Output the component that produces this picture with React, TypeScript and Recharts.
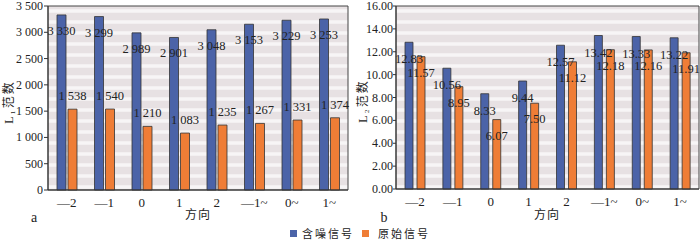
import React from 'react';
import { BarChart, Bar, XAxis, YAxis, CartesianGrid, LabelList, ReferenceArea } from 'recharts';

const categories = ['—2', '—1', '0', '1', '2', '—1~', '0~', '1~'];
const l1Noisy = [3330, 3299, 2989, 2901, 3048, 3153, 3229, 3253];
const l1Original = [1538, 1540, 1210, 1083, 1235, 1267, 1331, 1374];
const l2Noisy = [12.83, 10.56, 8.33, 9.44, 12.57, 13.42, 13.33, 13.22];
const l2Original = [11.57, 8.95, 6.07, 7.5, 11.12, 12.18, 12.16, 11.91];
const l1Ticks = [0, 500, 1000, 1500, 2000, 2500, 3000, 3500];
const l2Ticks = [0, 2, 4, 6, 8, 10, 12, 14, 16];
const seriesNames = ['含噪信号', '原始信号'];

const leftData = categories.map((c, i) => ({ cat: c, noisy: l1Noisy[i], original: l1Original[i] }));
const rightData = categories.map((c, i) => ({ cat: c, noisy: l2Noisy[i], original: l2Original[i] }));

const BLUE = '#4b63a8';
const ORANGE = '#ef7d36';
const TEXT = '#222';
const SERIF = '"Liberation Serif", "Times New Roman", serif';
const CJK = '"Noto Sans CJK SC", sans-serif';

const fmtThousands = (v: number) => {
  const s = String(Math.round(v));
  return s.length > 3 ? s.slice(0, s.length - 3) + ' ' + s.slice(s.length - 3) : s;
};
const fmt2 = (v: number) => Number(v).toFixed(2);

const makeLabel = (dy: number, fmt: (v: number) => string) => (props: any) => {
  const { x, y, width, value } = props;
  return (
    <text
      x={Number(x) + Number(width) / 2}
      y={Number(y) + dy}
      textAnchor="middle"
      dominantBaseline="central"
      style={{ fontSize: 12.5, fontFamily: SERIF }}
      fill={TEXT}
    >
      {fmt(value)}
    </text>
  );
};

const makeYTick = (fmt: (v: number) => string) => (props: any) => {
  const { x, y, payload } = props;
  return (
    <text x={x} y={y} textAnchor="end" dominantBaseline="central" fill={TEXT} style={{ fontSize: 12, fontFamily: SERIF }}>
      {fmt(payload.value)}
    </text>
  );
};

const XTick = (props: any) => {
  const { x, y, payload } = props;
  return (
    <text x={x} y={y + 6} textAnchor="middle" dominantBaseline="central" fill={TEXT} style={{ fontSize: 13, fontFamily: SERIF }}>
      {payload.value}
    </text>
  );
};

const stripes = (props: any) => {
  const off = props.offset || {};
  const top = off.top ?? 4;
  const h = off.height ?? 186;
  const pts: number[] = [];
  for (let yy = top + 5; yy < top + h - 1; yy += 11) pts.push(yy);
  return pts;
};

export default function App() {
  return (
    <div style={{ position: 'absolute', left: 0, top: 0, width: 700, height: 241, background: '#fff', overflow: 'hidden', fontFamily: SERIF }}>
      <div style={{ position: 'absolute', left: 0, top: 0 }}>
        <BarChart width={350} height={241} data={leftData} margin={{ top: 6, right: 2, bottom: 21, left: 0 }} barSize={9} barGap={2}>
          <CartesianGrid
            vertical={false}
            fill="#e7e1e3"
            stroke="#f7f5f6"
            strokeWidth={3.5}
            horizontalCoordinatesGenerator={stripes}
          />
          <XAxis dataKey="cat" height={30} tickLine={false} axisLine={{ stroke: '#333' }} tick={<XTick />} tickMargin={0} interval={0} />
          <YAxis
            width={48}
            domain={[0, 3500]}
            ticks={l1Ticks}
            tick={makeYTick(fmtThousands)}
            tickSize={4}
            tickMargin={1}
            tickLine={{ stroke: '#333' }}
            axisLine={{ stroke: '#333' }}
            interval={0}
          />
          <ReferenceArea y1={0} y2={3500} fill="none" stroke="#444" strokeWidth={1} />
          <Bar dataKey="noisy" fill={BLUE} stroke="#333" strokeWidth={0.8} isAnimationActive={false}>
            <LabelList dataKey="noisy" content={makeLabel(16, fmtThousands)} />
          </Bar>
          <Bar dataKey="original" fill={ORANGE} stroke="#333" strokeWidth={0.8} isAnimationActive={false}>
            <LabelList dataKey="original" content={makeLabel(-13, fmtThousands)} />
          </Bar>
        </BarChart>
      </div>
      <div style={{ position: 'absolute', left: 350, top: 0 }}>
        <BarChart width={350} height={241} data={rightData} margin={{ top: 6, right: 1, bottom: 21, left: 0 }} barSize={8} barGap={4}>
          <CartesianGrid
            vertical={false}
            fill="#e7e1e3"
            stroke="#f7f5f6"
            strokeWidth={3.5}
            horizontalCoordinatesGenerator={stripes}
          />
          <XAxis dataKey="cat" height={31} tickLine={false} axisLine={{ stroke: '#333' }} tick={<XTick />} tickMargin={0} interval={0} />
          <YAxis
            width={46}
            domain={[0, 16]}
            ticks={l2Ticks}
            tick={makeYTick(fmt2)}
            tickSize={3}
            tickMargin={0}
            tickLine={{ stroke: '#333' }}
            axisLine={{ stroke: '#333' }}
            interval={0}
          />
          <ReferenceArea y1={0} y2={16} fill="none" stroke="#444" strokeWidth={1} />
          <Bar dataKey="noisy" fill={BLUE} stroke="#333" strokeWidth={0.8} isAnimationActive={false}>
            <LabelList dataKey="noisy" content={makeLabel(17, fmt2)} />
          </Bar>
          <Bar dataKey="original" fill={ORANGE} stroke="#333" strokeWidth={0.8} isAnimationActive={false}>
            <LabelList dataKey="original" content={makeLabel(16, fmt2)} />
          </Bar>
        </BarChart>
      </div>

      {/* y-axis titles */}
      <div style={{ position: 'absolute', left: 8, top: 102, transform: 'translate(-50%, -50%) rotate(-90deg)', whiteSpace: 'nowrap', fontFamily: CJK, fontSize: 12, letterSpacing: 2, color: TEXT, lineHeight: '14px' }}>
        <span style={{ fontFamily: SERIF }}>L₁</span>范数
      </div>
      <div style={{ position: 'absolute', left: 362, top: 101, transform: 'translate(-50%, -50%) rotate(-90deg)', whiteSpace: 'nowrap', fontFamily: CJK, fontSize: 12, letterSpacing: 2, color: TEXT, lineHeight: '14px' }}>
        <span style={{ fontFamily: SERIF }}>L₂</span>范数
      </div>

      {/* x-axis titles */}
      <div style={{ position: 'absolute', left: 198, top: 214, transform: 'translate(-50%, -50%)', fontFamily: CJK, fontSize: 12, letterSpacing: 1, color: TEXT, lineHeight: '14px', whiteSpace: 'nowrap' }}>方向</div>
      <div style={{ position: 'absolute', left: 547, top: 214, transform: 'translate(-50%, -50%)', fontFamily: CJK, fontSize: 12, letterSpacing: 1, color: TEXT, lineHeight: '14px', whiteSpace: 'nowrap' }}>方向</div>

      {/* panel letters */}
      <div style={{ position: 'absolute', left: 34, top: 218, transform: 'translate(-50%, -50%)', fontFamily: SERIF, fontSize: 14, color: TEXT, lineHeight: '16px' }}>a</div>
      <div style={{ position: 'absolute', left: 384, top: 218, transform: 'translate(-50%, -50%)', fontFamily: SERIF, fontSize: 14, color: TEXT, lineHeight: '16px' }}>b</div>

      {/* legend */}
      <div style={{ position: 'absolute', left: 290, top: 227, height: 12, display: 'flex', alignItems: 'center', fontFamily: CJK, fontSize: 11, letterSpacing: 2, color: TEXT, lineHeight: '12px', whiteSpace: 'nowrap' }}>
        <span style={{ display: 'inline-block', width: 7, height: 7, background: BLUE, marginRight: 5 }} />
        <span>{seriesNames[0]}</span>
        <span style={{ display: 'inline-block', width: 7, height: 7, background: ORANGE, marginLeft: 8, marginRight: 9 }} />
        <span>{seriesNames[1]}</span>
      </div>
    </div>
  );
}
